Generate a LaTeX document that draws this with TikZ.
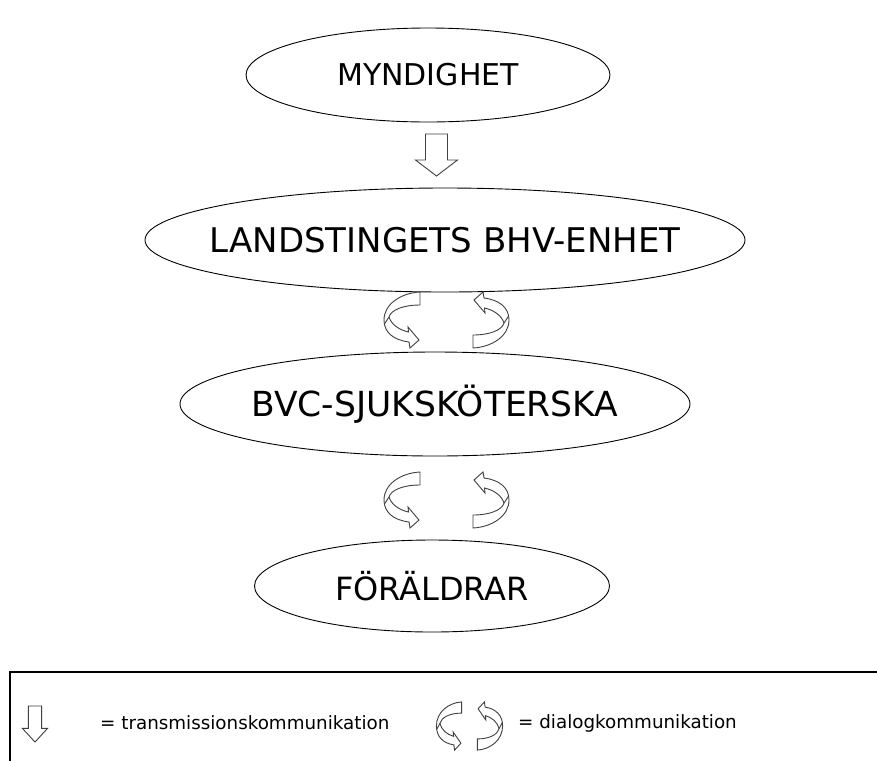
\documentclass[tikz,border=0pt]{standalone}
\usepackage{fontspec}
\setmainfont{DejaVu Sans}
\usetikzlibrary{shapes.geometric,calc}
\tikzset{
  blob/.style={draw=black, line width=0.9pt, ellipse, inner sep=0pt},
  blobtext/.style={inner sep=0pt},
  blockarrow/.style={draw=black!75, line width=0.9pt, fill=white, line join=miter},
  legendtext/.style={anchor=west, inner sep=0pt, font=\fontsize{18.3}{20}\selectfont},
  transmit/.pic={
    \draw[blockarrow] (-11,-21) -- (11,-21) -- (11,5) -- (21,5) -- (0,21) -- (-21,5) -- (-11,5) -- cycle;
  },
  dialog/.pic={
    \draw[blockarrow] (18,-28)
      .. controls (-1,-27) and (-18,-16) .. (-18,0)
      .. controls (-18,12) and (-9,20) .. (7,22)
      -- (8,28) -- (17,20) -- (6,7) -- (6.5,12)
      .. controls (-3,10) and (-11,4) .. (-13,-3)
      .. controls (-11,-10) and (1,-15) .. (18,-15)
      -- cycle;
    \draw[blockarrow, fill=none] (-13,-3) .. controls (-15,0) .. (-17.6,4);
  }
}
\begin{document}
\begin{tikzpicture}[x=1pt,y=-1pt]
\useasboundingbox (0,0) rectangle (877,761);
\node[blob, minimum width=364pt, minimum height=94pt] (myn) at (428,75) {};
\node[blobtext, font=\fontsize{30}{36}\selectfont] (myntx) at (myn.center) {MYNDIGHET};
\node[blob, minimum width=600pt, minimum height=104pt] (land) at (445,240) {};
\node[blobtext, font=\fontsize{34}{40}\selectfont] (landtx) at (land.center) {LANDSTINGETS BHV-ENHET};
\node[blob, minimum width=510pt, minimum height=104pt] (bvc) at (435,404) {};
\node[blobtext, font=\fontsize{34.5}{40}\selectfont] (bvctx) at (bvc.center) {BVC-SJUKSKÖTERSKA};
\node[blob, minimum width=355pt, minimum height=92pt] (foral) at (432,586) {};
\node[blobtext, font=\fontsize{32}{38}\selectfont] (foraltx) at (foral.center) {FÖRÄLDRAR};
% transmission arrow
\pic at ($(myn.south)!0.5!(land.north)$) {transmit};
% dialog arrows
\pic at (402,320) {dialog};
\pic[rotate=180] at (491,320) {dialog};
\pic at (402,500) {dialog};
\pic[rotate=180] at (491,500) {dialog};
% legend
\coordinate (lb) at (10,761);
\coordinate (lt) at (10,672);
\coordinate (rt) at (877,672);
\draw[line width=1.3pt] (lb) -- (lt) -- (rt);
\pic[xscale=0.6, yscale=0.86] at (35,724) {transmit};
\node[legendtext] (ltx1) at (100,723) {= transmissionskommunikation};
\pic[xscale=0.7, yscale=0.86] at (449,726) {dialog};
\pic[rotate=180, xscale=0.7, yscale=0.86] at (490,726) {dialog};
\node[legendtext] (ltx2) at (518,723) {= dialogkommunikation};
\end{tikzpicture}
\end{document}
